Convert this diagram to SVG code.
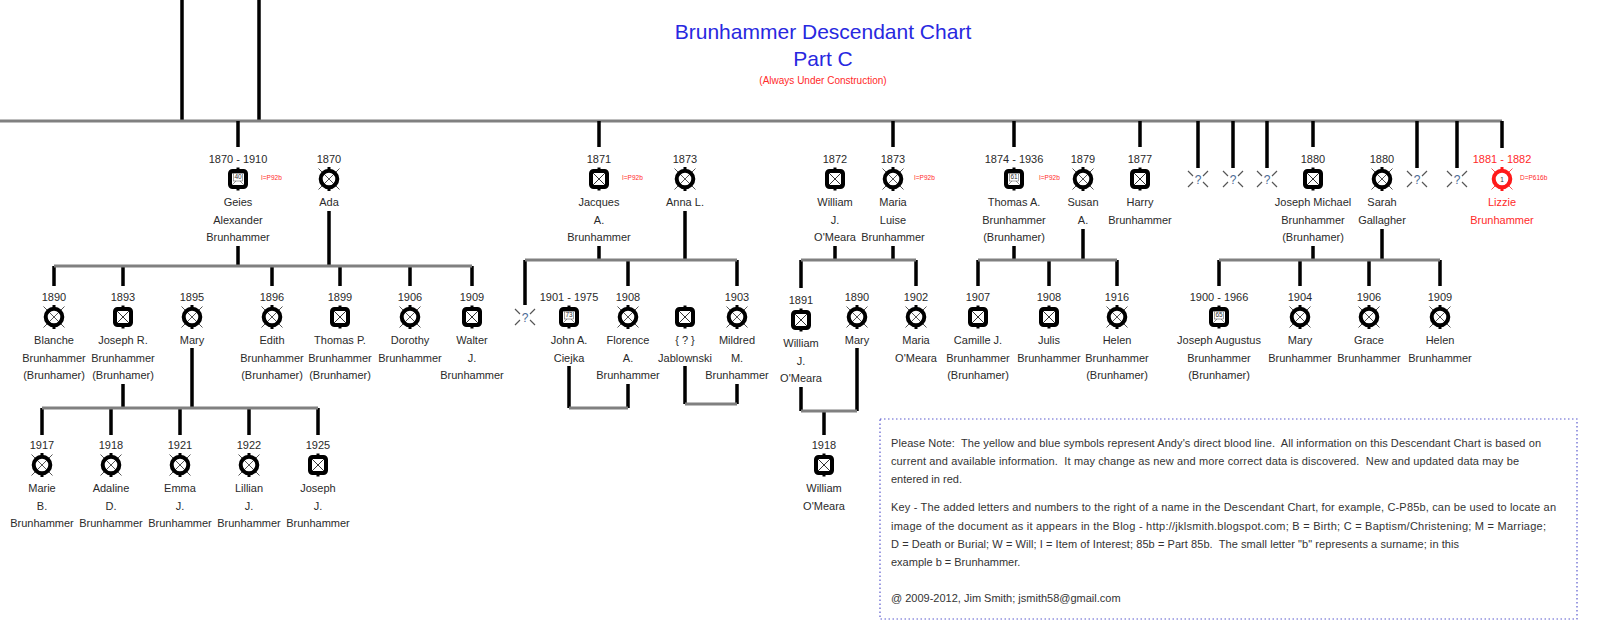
<svg xmlns="http://www.w3.org/2000/svg" xmlns:xlink="http://www.w3.org/1999/xlink" width="1600" height="635" viewBox="0 0 1600 635">
<style>
text { font-family: "Liberation Sans", Arial, sans-serif; }
.t { font-size: 11px; fill: #2a2a2a; text-anchor: middle; }
.r { fill: #ff2a2a; }
.lbl { font-size: 6.5px; fill: #ff2a2a; text-anchor: start; }
.num { font-size: 6.5px; fill: #333; text-anchor: middle; }
.q { font-size: 12px; fill: #4a6a95; text-anchor: middle; }
.box { font-size: 11px; fill: #333; white-space: pre; }
.vl { stroke: #000; stroke-width: 3.5; fill: none; }
.hl { stroke: #808080; stroke-width: 3; fill: none; }
</style>
<defs>
  <g id="sym-m">
    <rect x="-8" y="-8" width="16" height="16" rx="2.5" fill="#fff" stroke="#000" stroke-width="4"/>
    <path d="M-6,-6 L6,6 M6,-6 L-6,6" stroke="#333" stroke-width="1"/>
    <rect x="-1.5" y="-11.5" width="3" height="2" fill="#000"/>
    <rect x="-1.5" y="9.5" width="3" height="2" fill="#000"/>
  </g>
  <g id="sym-mn">
    <rect x="-8" y="-8" width="16" height="16" rx="2.5" fill="#fff" stroke="#000" stroke-width="4"/>
    <path d="M-6,-6 L6,6 M6,-6 L-6,6" stroke="#777" stroke-width="0.8"/>
    <rect x="-4.5" y="-5.5" width="9" height="7.5" fill="#fff" stroke="#666" stroke-width="0.6"/>
    <rect x="-1.5" y="-11.5" width="3" height="2" fill="#000"/>
    <rect x="-1.5" y="9.5" width="3" height="2" fill="#000"/>
  </g>
  <g id="sym-f">
    <path d="M-10.5,-10.5 L10.5,10.5 M10.5,-10.5 L-10.5,10.5" stroke="#555" stroke-width="1"/>
    <circle r="8.3" fill="none" stroke="#000" stroke-width="4"/>
    <rect x="-1.5" y="-12" width="3" height="2" fill="#000"/>
    <rect x="-1.5" y="10" width="3" height="2" fill="#000"/>
  </g>
  <g id="sym-fr">
    <path d="M-10.5,-10.5 L-6,-6 M10.5,-10.5 L6,-6 M-10.5,10.5 L-6,6 M10.5,10.5 L6,6" stroke="#f55" stroke-width="1"/>
    <circle r="8.3" fill="#fff" stroke="#ff1a1a" stroke-width="4"/>
    <rect x="-1.5" y="-12" width="3" height="2" fill="#ff1a1a"/>
    <rect x="-1.5" y="10" width="3" height="2" fill="#ff1a1a"/>
  </g>
  <g id="sym-u">
    <path d="M-10,-8 L-5,-3 M10,-8 L5,-3 M-10,8 L-5,3 M10,8 L5,3" stroke="#555" stroke-width="1.2"/>
  </g>
</defs>
<rect width="1600" height="635" fill="#fff"/>

<g id="title">
  <text x="823" y="39" style="font-size:21px;fill:#2828e0;text-anchor:middle">Brunhammer Descendant Chart</text>
  <text x="823" y="66" style="font-size:21px;fill:#2828e0;text-anchor:middle">Part C</text>
  <text x="823" y="84" style="font-size:10px;fill:#ff2a2a;text-anchor:middle">(Always Under Construction)</text>
</g>

<g id="connectors">
  <path class="vl" d="M182,0 V121 M259,0 V121"/>
  <path class="hl" d="M0,121 H1502"/>
  <path class="vl" d="M238,121 V147 M599,121 V147 M893,121 V147 M1014,121 V147 M1140,121 V147 M1313,121 V147 M1502,121 V148 M1198,121 V168 M1233,121 V168 M1267,121 V168 M1417,121 V168 M1457,121 V168"/>
  <!-- Geies + Ada -->
  <path class="vl" d="M238,246 V266 M329,211 V266"/>
  <path class="vl" d="M54,266 V286 M123,266 V286 M272,266 V286 M340,266 V286 M410,266 V286 M472,266 V286"/>
  <path class="hl" d="M54,266 H472"/>
  <!-- Jacques + Anna -->
  <path class="vl" d="M599,246 V260 M685,211 V260"/>
  <path class="vl" d="M525,260 V305 M628,260 V286 M737,260 V286"/>
  <path class="hl" d="M525,260 H737"/>
  <!-- William + Maria Luise -->
  <path class="vl" d="M835,246 V260 M893,246 V260"/>
  <path class="vl" d="M801,260 V288 M916,260 V286"/>
  <path class="hl" d="M801,260 H916"/>
  <!-- Thomas + Susan -->
  <path class="vl" d="M1014,246 V260 M1083,229 V260"/>
  <path class="vl" d="M978,260 V286 M1049,260 V286 M1117,260 V286"/>
  <path class="hl" d="M978,260 H1117"/>
  <!-- Joseph Michael + Sarah -->
  <path class="vl" d="M1313,246 V260 M1382,229 V260"/>
  <path class="vl" d="M1219,260 V286 M1300,260 V286 M1369,260 V286 M1440,260 V286"/>
  <path class="hl" d="M1219,260 H1440"/>
  <!-- Joseph R. + Mary -->
  <path class="vl" d="M123,384 V408 M192,348 V408"/>
  <path class="vl" d="M42,408 V435 M111,408 V435 M180,408 V435 M249,408 V435 M318,408 V435"/>
  <path class="hl" d="M42,408 H318"/>
  <!-- John A. + Florence -->
  <path class="vl" d="M569,366 V408 M628,384 V408"/>
  <path class="hl" d="M569,408 H628"/>
  <!-- Jablownski + Mildred -->
  <path class="vl" d="M685,366 V404 M737,384 V404"/>
  <path class="hl" d="M685,404 H737"/>
  <!-- William + Mary -->
  <path class="vl" d="M801,387 V411 M857,348 V411 M824,411 V435"/>
  <path class="hl" d="M801,411 H857"/>
</g>

<!-- Generation 1 -->
<g id="n-geies">
  <text class="t" x="238" y="163">1870 - 1910</text>
  <use xlink:href="#sym-mn" href="#sym-mn" x="238" y="179"/>
  <text class="num" x="238" y="178.5">40</text>
  <text class="lbl" x="261" y="180">I=P92b</text>
  <text class="t" x="238" y="206">Geies</text>
  <text class="t" x="238" y="223.5">Alexander</text>
  <text class="t" x="238" y="241">Brunhammer</text>
</g>
<g id="n-ada">
  <text class="t" x="329" y="163">1870</text>
  <use href="#sym-f" x="329" y="179"/>
  <text class="t" x="329" y="206">Ada</text>
</g>
<g id="n-jacques">
  <text class="t" x="599" y="163">1871</text>
  <use href="#sym-m" x="599" y="179"/>
  <text class="lbl" x="622" y="180">I=P92b</text>
  <text class="t" x="599" y="206">Jacques</text>
  <text class="t" x="599" y="223.5">A.</text>
  <text class="t" x="599" y="241">Brunhammer</text>
</g>
<g id="n-anna">
  <text class="t" x="685" y="163">1873</text>
  <use href="#sym-f" x="685" y="179"/>
  <text class="t" x="685" y="206">Anna L.</text>
</g>
<g id="n-william-sr">
  <text class="t" x="835" y="163">1872</text>
  <use href="#sym-m" x="835" y="179"/>
  <text class="t" x="835" y="206">William</text>
  <text class="t" x="835" y="223.5">J.</text>
  <text class="t" x="835" y="241">O'Meara</text>
</g>
<g id="n-maria-luise">
  <text class="t" x="893" y="163">1873</text>
  <use href="#sym-f" x="893" y="179"/>
  <text class="lbl" x="914" y="180">I=P92b</text>
  <text class="t" x="893" y="206">Maria</text>
  <text class="t" x="893" y="223.5">Luise</text>
  <text class="t" x="893" y="241">Brunhammer</text>
</g>
<g id="n-thomas-a">
  <text class="t" x="1014" y="163">1874 - 1936</text>
  <use href="#sym-mn" x="1014" y="179"/>
  <text class="num" x="1014" y="178.5">61</text>
  <text class="lbl" x="1039" y="180">I=P92b</text>
  <text class="t" x="1014" y="206">Thomas A.</text>
  <text class="t" x="1014" y="223.5">Brunhammer</text>
  <text class="t" x="1014" y="241">(Brunhamer)</text>
</g>
<g id="n-susan">
  <text class="t" x="1083" y="163">1879</text>
  <use href="#sym-f" x="1083" y="179"/>
  <text class="t" x="1083" y="206">Susan</text>
  <text class="t" x="1083" y="223.5">A.</text>
</g>
<g id="n-harry">
  <text class="t" x="1140" y="163">1877</text>
  <use href="#sym-m" x="1140" y="179"/>
  <text class="t" x="1140" y="206">Harry</text>
  <text class="t" x="1140" y="223.5">Brunhammer</text>
</g>
<g id="n-unk1"><use href="#sym-u" x="1198" y="179"/><text class="q" x="1198" y="184">?</text></g>
<g id="n-unk2"><use href="#sym-u" x="1233" y="179"/><text class="q" x="1233" y="184">?</text></g>
<g id="n-unk3"><use href="#sym-u" x="1267" y="179"/><text class="q" x="1267" y="184">?</text></g>
<g id="n-joseph-michael">
  <text class="t" x="1313" y="163">1880</text>
  <use href="#sym-m" x="1313" y="179"/>
  <text class="t" x="1313" y="206">Joseph Michael</text>
  <text class="t" x="1313" y="223.5">Brunhammer</text>
  <text class="t" x="1313" y="241">(Brunhamer)</text>
</g>
<g id="n-sarah">
  <text class="t" x="1382" y="163">1880</text>
  <use href="#sym-f" x="1382" y="179"/>
  <text class="t" x="1382" y="206">Sarah</text>
  <text class="t" x="1382" y="223.5">Gallagher</text>
</g>
<g id="n-unk4"><use href="#sym-u" x="1417" y="179"/><text class="q" x="1417" y="184">?</text></g>
<g id="n-unk5"><use href="#sym-u" x="1457" y="179"/><text class="q" x="1457" y="184">?</text></g>
<g id="n-lizzie">
  <text class="t r" x="1502" y="163">1881 - 1882</text>
  <use href="#sym-fr" x="1502" y="179"/>
  <text class="num r" x="1502" y="181.5">1</text>
  <text class="lbl" x="1520" y="180">D=P616b</text>
  <text class="t r" x="1502" y="206">Lizzie</text>
  <text class="t r" x="1502" y="223.5">Brunhammer</text>
</g>

<!-- Generation 2 -->
<g id="n-blanche">
  <text class="t" x="54" y="301">1890</text>
  <use href="#sym-f" x="54" y="317"/>
  <text class="t" x="54" y="344">Blanche</text>
  <text class="t" x="54" y="361.5">Brunhammer</text>
  <text class="t" x="54" y="379">(Brunhamer)</text>
</g>
<g id="n-joseph-r">
  <text class="t" x="123" y="301">1893</text>
  <use href="#sym-m" x="123" y="317"/>
  <text class="t" x="123" y="344">Joseph R.</text>
  <text class="t" x="123" y="361.5">Brunhammer</text>
  <text class="t" x="123" y="379">(Brunhamer)</text>
</g>
<g id="n-mary-1895">
  <text class="t" x="192" y="301">1895</text>
  <use href="#sym-f" x="192" y="317"/>
  <text class="t" x="192" y="344">Mary</text>
</g>
<g id="n-edith">
  <text class="t" x="272" y="301">1896</text>
  <use href="#sym-f" x="272" y="317"/>
  <text class="t" x="272" y="344">Edith</text>
  <text class="t" x="272" y="361.5">Brunhammer</text>
  <text class="t" x="272" y="379">(Brunhamer)</text>
</g>
<g id="n-thomas-p">
  <text class="t" x="340" y="301">1899</text>
  <use href="#sym-m" x="340" y="317"/>
  <text class="t" x="340" y="344">Thomas P.</text>
  <text class="t" x="340" y="361.5">Brunhammer</text>
  <text class="t" x="340" y="379">(Brunhamer)</text>
</g>
<g id="n-dorothy">
  <text class="t" x="410" y="301">1906</text>
  <use href="#sym-f" x="410" y="317"/>
  <text class="t" x="410" y="344">Dorothy</text>
  <text class="t" x="410" y="361.5">Brunhammer</text>
</g>
<g id="n-walter">
  <text class="t" x="472" y="301">1909</text>
  <use href="#sym-m" x="472" y="317"/>
  <text class="t" x="472" y="344">Walter</text>
  <text class="t" x="472" y="361.5">J.</text>
  <text class="t" x="472" y="379">Brunhammer</text>
</g>
<g id="n-unk6"><use href="#sym-u" x="525" y="317"/><text class="q" x="525" y="322">?</text></g>
<g id="n-john">
  <text class="t" x="569" y="301">1901 - 1975</text>
  <use href="#sym-mn" x="569" y="317"/>
  <text class="num" x="569" y="316.5">73</text>
  <text class="t" x="569" y="344">John A.</text>
  <text class="t" x="569" y="361.5">Ciejka</text>
</g>
<g id="n-florence">
  <text class="t" x="628" y="301">1908</text>
  <use href="#sym-f" x="628" y="317"/>
  <text class="t" x="628" y="344">Florence</text>
  <text class="t" x="628" y="361.5">A.</text>
  <text class="t" x="628" y="379">Brunhammer</text>
</g>
<g id="n-jablownski">
  <use href="#sym-m" x="685" y="317"/>
  <text class="t" x="685" y="344">{ ? }</text>
  <text class="t" x="685" y="361.5">Jablownski</text>
</g>
<g id="n-mildred">
  <text class="t" x="737" y="301">1903</text>
  <use href="#sym-f" x="737" y="317"/>
  <text class="t" x="737" y="344">Mildred</text>
  <text class="t" x="737" y="361.5">M.</text>
  <text class="t" x="737" y="379">Brunhammer</text>
</g>
<g id="n-william-j">
  <text class="t" x="801" y="304">1891</text>
  <use href="#sym-m" x="801" y="320"/>
  <text class="t" x="801" y="347">William</text>
  <text class="t" x="801" y="364.5">J.</text>
  <text class="t" x="801" y="382">O'Meara</text>
</g>
<g id="n-mary-1890">
  <text class="t" x="857" y="301">1890</text>
  <use href="#sym-f" x="857" y="317"/>
  <text class="t" x="857" y="344">Mary</text>
</g>
<g id="n-maria">
  <text class="t" x="916" y="301">1902</text>
  <use href="#sym-f" x="916" y="317"/>
  <text class="t" x="916" y="344">Maria</text>
  <text class="t" x="916" y="361.5">O'Meara</text>
</g>
<g id="n-camille">
  <text class="t" x="978" y="301">1907</text>
  <use href="#sym-m" x="978" y="317"/>
  <text class="t" x="978" y="344">Camille J.</text>
  <text class="t" x="978" y="361.5">Brunhammer</text>
  <text class="t" x="978" y="379">(Brunhamer)</text>
</g>
<g id="n-julis">
  <text class="t" x="1049" y="301">1908</text>
  <use href="#sym-m" x="1049" y="317"/>
  <text class="t" x="1049" y="344">Julis</text>
  <text class="t" x="1049" y="361.5">Brunhammer</text>
</g>
<g id="n-helen-1916">
  <text class="t" x="1117" y="301">1916</text>
  <use href="#sym-f" x="1117" y="317"/>
  <text class="t" x="1117" y="344">Helen</text>
  <text class="t" x="1117" y="361.5">Brunhammer</text>
  <text class="t" x="1117" y="379">(Brunhamer)</text>
</g>
<g id="n-joseph-augustus">
  <text class="t" x="1219" y="301">1900 - 1966</text>
  <use href="#sym-mn" x="1219" y="317"/>
  <text class="num" x="1219" y="316.5">65</text>
  <text class="t" x="1219" y="344">Joseph Augustus</text>
  <text class="t" x="1219" y="361.5">Brunhammer</text>
  <text class="t" x="1219" y="379">(Brunhamer)</text>
</g>
<g id="n-mary-1904">
  <text class="t" x="1300" y="301">1904</text>
  <use href="#sym-f" x="1300" y="317"/>
  <text class="t" x="1300" y="344">Mary</text>
  <text class="t" x="1300" y="361.5">Brunhammer</text>
</g>
<g id="n-grace">
  <text class="t" x="1369" y="301">1906</text>
  <use href="#sym-f" x="1369" y="317"/>
  <text class="t" x="1369" y="344">Grace</text>
  <text class="t" x="1369" y="361.5">Brunhammer</text>
</g>
<g id="n-helen-1909">
  <text class="t" x="1440" y="301">1909</text>
  <use href="#sym-f" x="1440" y="317"/>
  <text class="t" x="1440" y="344">Helen</text>
  <text class="t" x="1440" y="361.5">Brunhammer</text>
</g>

<!-- Generation 3 -->
<g id="n-marie">
  <text class="t" x="42" y="449">1917</text>
  <use href="#sym-f" x="42" y="465"/>
  <text class="t" x="42" y="492">Marie</text>
  <text class="t" x="42" y="509.5">B.</text>
  <text class="t" x="42" y="527">Brunhammer</text>
</g>
<g id="n-adaline">
  <text class="t" x="111" y="449">1918</text>
  <use href="#sym-f" x="111" y="465"/>
  <text class="t" x="111" y="492">Adaline</text>
  <text class="t" x="111" y="509.5">D.</text>
  <text class="t" x="111" y="527">Brunhammer</text>
</g>
<g id="n-emma">
  <text class="t" x="180" y="449">1921</text>
  <use href="#sym-f" x="180" y="465"/>
  <text class="t" x="180" y="492">Emma</text>
  <text class="t" x="180" y="509.5">J.</text>
  <text class="t" x="180" y="527">Brunhammer</text>
</g>
<g id="n-lillian">
  <text class="t" x="249" y="449">1922</text>
  <use href="#sym-f" x="249" y="465"/>
  <text class="t" x="249" y="492">Lillian</text>
  <text class="t" x="249" y="509.5">J.</text>
  <text class="t" x="249" y="527">Brunhammer</text>
</g>
<g id="n-joseph-j">
  <text class="t" x="318" y="449">1925</text>
  <use href="#sym-m" x="318" y="465"/>
  <text class="t" x="318" y="492">Joseph</text>
  <text class="t" x="318" y="509.5">J.</text>
  <text class="t" x="318" y="527">Brunhammer</text>
</g>
<g id="n-william-1918">
  <text class="t" x="824" y="449">1918</text>
  <use href="#sym-m" x="824" y="465"/>
  <text class="t" x="824" y="492">William</text>
  <text class="t" x="824" y="509.5">O'Meara</text>
</g>

<g id="note">
  <rect x="880" y="419" width="697" height="200" fill="none" stroke="#5a5acd" stroke-width="1.2" stroke-dasharray="1.5 2.5"/>
  <text class="box" xml:space="preserve" x="891" y="447" textLength="650" lengthAdjust="spacing">Please Note:  The yellow and blue symbols represent Andy's direct blood line.  All information on this Descendant Chart is based on</text>
  <text class="box" xml:space="preserve" x="891" y="465" textLength="628" lengthAdjust="spacing">current and available information.  It may change as new and more correct data is discovered.  New and updated data may be</text>
  <text class="box" xml:space="preserve" x="891" y="483">entered in red.</text>
  <text class="box" xml:space="preserve" x="891" y="511" textLength="665" lengthAdjust="spacing">Key - The added letters and numbers to the right of a name in the Descendant Chart, for example, C-P85b, can be used to locate an</text>
  <text class="box" xml:space="preserve" x="891" y="530" textLength="655" lengthAdjust="spacing">image of the document as it appears in the Blog - http://jklsmith.blogspot.com; B = Birth; C = Baptism/Christening; M = Marriage;</text>
  <text class="box" xml:space="preserve" x="891" y="548" textLength="568" lengthAdjust="spacing">D = Death or Burial; W = Will; I = Item of Interest; 85b = Part 85b.  The small letter "b" represents a surname; in this</text>
  <text class="box" xml:space="preserve" x="891" y="566">example b = Brunhammer.</text>
  <text class="box" xml:space="preserve" x="891" y="602">@ 2009-2012, Jim Smith; jsmith58@gmail.com</text>
</g>
</svg>
